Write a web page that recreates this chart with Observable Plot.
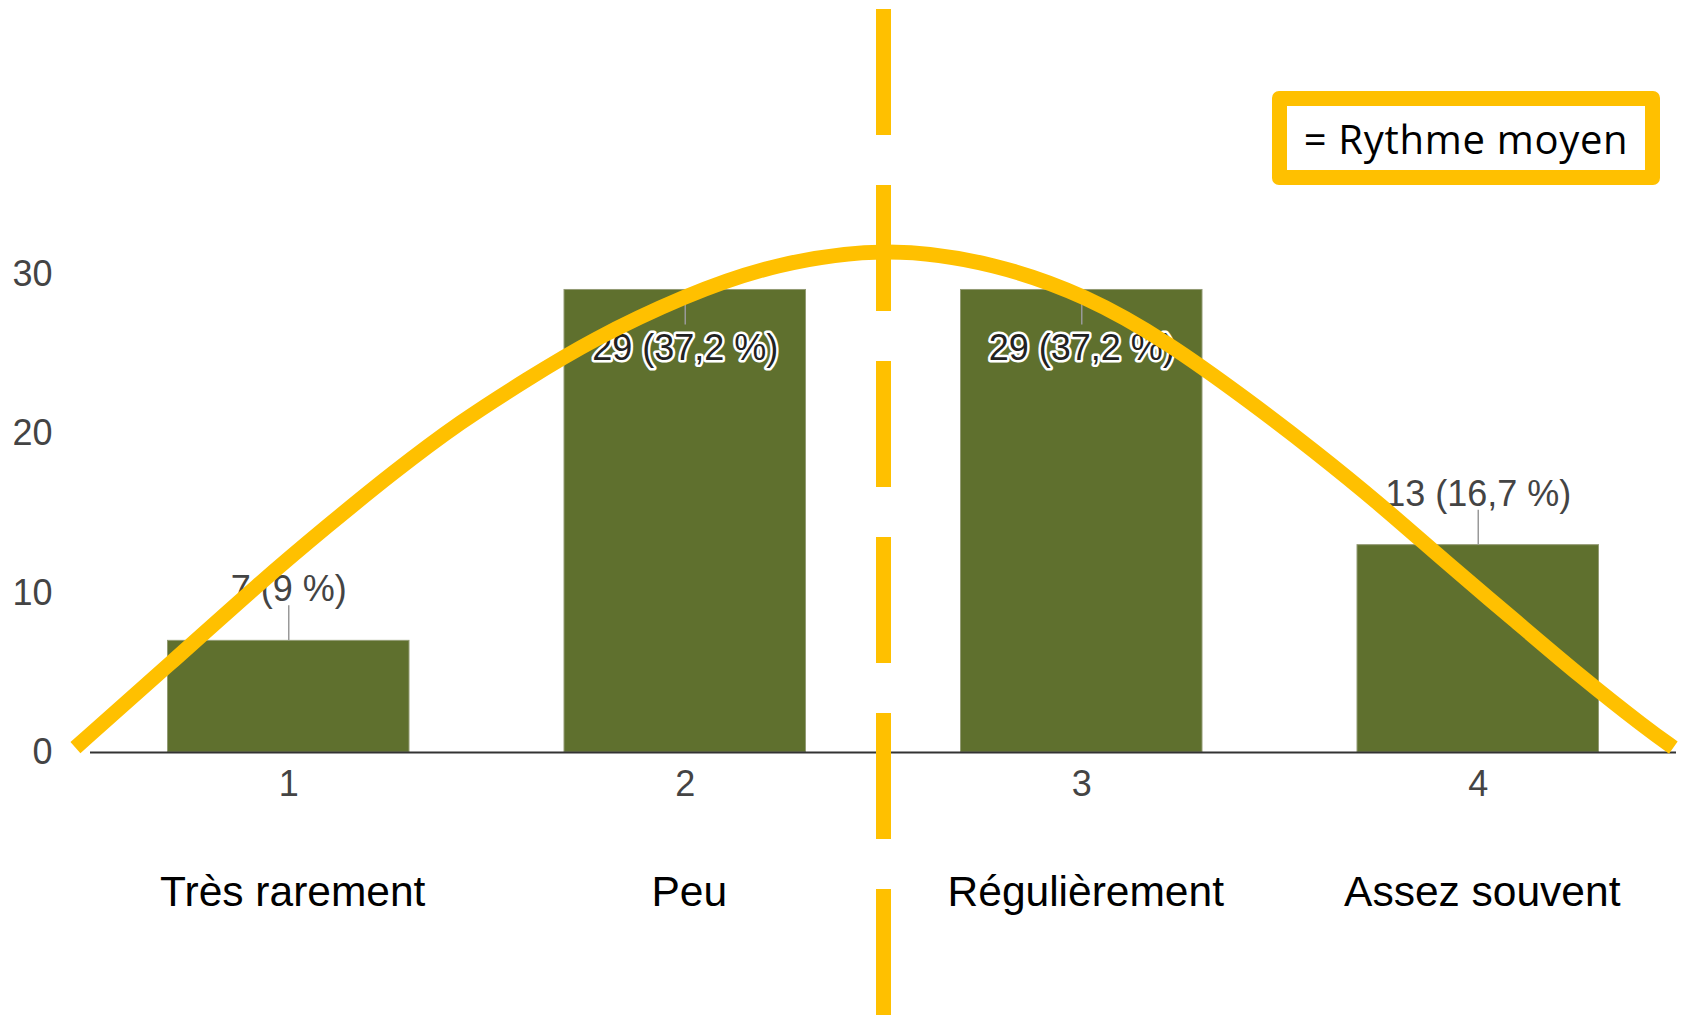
<!DOCTYPE html>
<html>
<head>
<meta charset="utf-8">
<script src="https://cdn.jsdelivr.net/npm/d3@7"></script>
<script src="https://cdn.jsdelivr.net/npm/@observablehq/plot@0.6"></script>
<style>
  html, body { margin: 0; padding: 0; background: #fff; }
  #wrap { position: relative; width: 1690px; height: 1015px; overflow: hidden; }
  #legend {
    position: absolute; left: 1272px; top: 91px;
    width: 358px; height: 62px;
    border: 15px solid #FFC000; border-radius: 7px;
    background: #fff;
    display: flex; align-items: center; justify-content: center;
    font-family: "Open Sans", sans-serif; font-size: 40px; letter-spacing: 0.7px;
    color: #000; line-height: 1; padding-top: 2px; box-sizing: content-box;
  }
</style>
</head>
<body>
<div id="wrap"><div id="legend">= Rythme moyen</div></div>
<script>
// ---- data ----
const categories = ["Très rarement", "Peu", "Régulièrement", "Assez souvent"];
const xTickLabels = ["1", "2", "3", "4"];
const counts = [7, 29, 29, 13];
const percentLabels = ["9 %", "37,2 %", "37,2 %", "16,7 %"];
const yTicks = [0, 10, 20, 30];
const meanRhythm = 2.5;
// hand-drawn bell curve (x in category units, y in counts)
const curveX = [0.462, 0.702, 0.929, 1.097, 1.265, 1.433, 1.601, 1.761, 1.998, 2.223, 2.515, 2.785, 3.012, 3.214, 3.417, 3.585, 3.753, 3.922, 4.089, 4.258, 4.426, 4.492];
const curveY = [0.31, 5.60, 10.68, 14.20, 17.60, 20.75, 23.40, 25.83, 28.65, 30.66, 31.75, 30.66, 28.65, 25.77, 22.13, 18.95, 15.56, 11.85, 8.35, 4.76, 1.47, 0.31];

const bars = categories.map((c, i) => ({
  pos: i + 1, category: c, tick: xTickLabels[i], count: counts[i],
  label: `${counts[i]} (${percentLabels[i]})`
}));
const curve = curveX.map((x, i) => ({x, y: curveY[i]}));
const insideThreshold = 25;
const above = bars.filter(d => d.count < insideThreshold);
const inside = bars.filter(d => d.count >= insideThreshold);

const gold = "#FFC000";
const olive = "#5f702e";
const barInset = 77.5;

const chart = Plot.plot({
  width: 1690,
  height: 1015,
  marginLeft: 90,
  marginRight: 14,
  marginTop: 0,
  marginBottom: 0,
  style: {fontFamily: "'Liberation Sans', Arial, sans-serif", background: "transparent", overflow: "visible"},
  x: {domain: [0.5, 4.5], axis: null},
  y: {domain: [-16.49, 47.15], axis: null},
  marks: [
    Plot.rectY(bars, {
      x1: d => d.pos - 0.5, x2: d => d.pos + 0.5, y1: 0, y2: "count",
      insetLeft: barInset, insetRight: barInset,
      fill: olive, stroke: "#939b74", strokeWidth: 1
    }),
    Plot.axisY({ticks: yTicks, tickSize: 0, tickPadding: 38, fontSize: 36, fill: "#444", label: null}),
    Plot.ruleY([0], {stroke: "#333", strokeWidth: 2}),
    Plot.text(bars, {x: "pos", y: 0, text: "tick", dy: 32, fontSize: 36, fill: "#444"}),
    Plot.text(bars, {x: "pos", y: 0, text: "category", dy: 140, dx: 4, fontSize: 42.5, fill: "#000"}),
    Plot.ruleX(above, {x: "pos", y1: "count", y2: "count", insetBottom: 35, stroke: "#999", strokeWidth: 1.5}),
    Plot.ruleX(inside, {x: "pos", y1: "count", y2: "count", insetTop: 35, stroke: "#999", strokeWidth: 1.5}),
    Plot.text(above, {x: "pos", y: "count", text: "label", dy: -51, fontSize: 36, fill: "#444"}),
    Plot.text(inside, {x: "pos", y: "count", text: "label", dy: 58, fontSize: 36, fill: "#222", stroke: "#fff", strokeWidth: 5}),
    Plot.line(curve, {x: "x", y: "y", curve: "basis", stroke: gold, strokeWidth: 15, strokeLinecap: "butt"}),
    Plot.ruleX([meanRhythm], {stroke: gold, strokeWidth: 15, strokeDasharray: "126,50", strokeDashoffset: -9})
  ]
});
chart.style.position = "absolute";
chart.style.left = "0px";
chart.style.top = "0px";
const wrap = document.getElementById("wrap");
wrap.insertBefore(chart, wrap.firstChild);
</script>
</body>
</html>
